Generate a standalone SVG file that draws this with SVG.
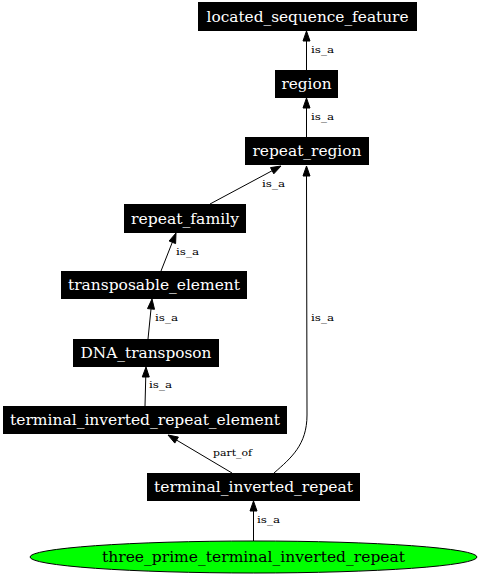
<svg xmlns="http://www.w3.org/2000/svg" width="480" height="576" viewBox="0 0 480 576">
<style>
.box{fill:#000;stroke:#000;stroke-width:1}
.nt{font-family:"DejaVu Serif","Liberation Serif",serif;font-size:14px;fill:#fff;text-anchor:middle}
.et{font-family:"DejaVu Serif","Liberation Serif",serif;font-size:10px;fill:#000}
.edge{fill:none;stroke:#000;stroke-width:1}
.ah{fill:#000;stroke:#000;stroke-width:1}
</style>
<rect width="480" height="576" fill="#fff"/>
<g id="connectors">
<g id="e1"><path class="edge" d="M306.5,70 L306.5,41"/><polygon class="ah" points="306.5,31 310,41 303,41"/><text class="et" x="311" y="53" textLength="23" lengthAdjust="spacingAndGlyphs">is_a</text></g>
<g id="e2"><path class="edge" d="M306.5,137 L306.5,108"/><polygon class="ah" points="306.5,98 310,108 303,108"/><text class="et" x="311" y="120" textLength="23" lengthAdjust="spacingAndGlyphs">is_a</text></g>
<g id="e3"><path class="edge" d="M210,204 L272.2,170.7"/><polygon class="ah" points="281,166 273.8,173.8 270.5,167.6"/><text class="et" x="262" y="187" textLength="23" lengthAdjust="spacingAndGlyphs">is_a</text></g>
<g id="e4"><path class="edge" d="M161,271 L172.3,242.3"/><polygon class="ah" points="176,233 175.6,243.6 169.1,241"/><text class="et" x="176" y="255" textLength="23" lengthAdjust="spacingAndGlyphs">is_a</text></g>
<g id="e5"><path class="edge" d="M148,339 L151,309"/><polygon class="ah" points="152,299 154.5,309.3 147.5,308.6"/><text class="et" x="155" y="321" textLength="23" lengthAdjust="spacingAndGlyphs">is_a</text></g>
<g id="e6"><path class="edge" d="M145,406 L145.75,377"/><polygon class="ah" points="146,367 149.25,377 142.25,377"/><text class="et" x="149" y="388" textLength="23" lengthAdjust="spacingAndGlyphs">is_a</text></g>
<g id="e7"><path class="edge" d="M232,473 L176.6,440.1"/><polygon class="ah" points="168,435 178.4,437.1 174.8,443.1"/><text class="et" x="213" y="456" textLength="39" lengthAdjust="spacingAndGlyphs">part_of</text></g>
<g id="e8"><path class="edge" d="M274,473 C291,458 307,445 307,415 L306.5,176"/><polygon class="ah" points="306.5,166 310,176 303,176"/><text class="et" x="311" y="321" textLength="23" lengthAdjust="spacingAndGlyphs">is_a</text></g>
<g id="e9"><path class="edge" d="M253.5,541 L253.5,511"/><polygon class="ah" points="253.5,501 257,511 250,511"/><text class="et" x="257" y="523" textLength="23" lengthAdjust="spacingAndGlyphs">is_a</text></g>
</g>
<g id="located_sequence_feature"><rect class="box" x="198.5" y="2.5" width="218" height="28"/><text class="nt" x="307.5" y="21.5" textLength="202" lengthAdjust="spacingAndGlyphs">located_sequence_feature</text></g>
<g id="region"><rect class="box" x="275.5" y="70.5" width="62" height="27"/><text class="nt" x="306.5" y="89" textLength="50" lengthAdjust="spacingAndGlyphs">region</text></g>
<g id="repeat_region"><rect class="box" x="245.5" y="137.5" width="123" height="27"/><text class="nt" x="307" y="156" textLength="109" lengthAdjust="spacingAndGlyphs">repeat_region</text></g>
<g id="repeat_family"><rect class="box" x="124.5" y="204.5" width="121" height="28"/><text class="nt" x="185" y="223.5" textLength="108" lengthAdjust="spacingAndGlyphs">repeat_family</text></g>
<g id="transposable_element"><rect class="box" x="61.5" y="271.5" width="185" height="27"/><text class="nt" x="154" y="290" textLength="172" lengthAdjust="spacingAndGlyphs">transposable_element</text></g>
<g id="DNA_transposon"><rect class="box" x="73.5" y="339.5" width="145" height="27"/><text class="nt" x="146" y="358" textLength="131" lengthAdjust="spacingAndGlyphs">DNA_transposon</text></g>
<g id="terminal_inverted_repeat_element"><rect class="box" x="3.5" y="406.5" width="283" height="27"/><text class="nt" x="145" y="425" textLength="270" lengthAdjust="spacingAndGlyphs">terminal_inverted_repeat_element</text></g>
<g id="terminal_inverted_repeat"><rect class="box" x="147.5" y="473.5" width="212" height="27"/><text class="nt" x="253.5" y="492" textLength="199" lengthAdjust="spacingAndGlyphs">terminal_inverted_repeat</text></g>
<g id="three_prime_terminal_inverted_repeat"><ellipse cx="253.5" cy="557" rx="223.5" ry="16" fill="#00ff00" stroke="#000" stroke-width="1"/><text x="253.5" y="562" textLength="303" lengthAdjust="spacingAndGlyphs" style="font-family:'DejaVu Serif','Liberation Serif',serif;font-size:14px;fill:#000;text-anchor:middle">three_prime_terminal_inverted_repeat</text></g>
</svg>
